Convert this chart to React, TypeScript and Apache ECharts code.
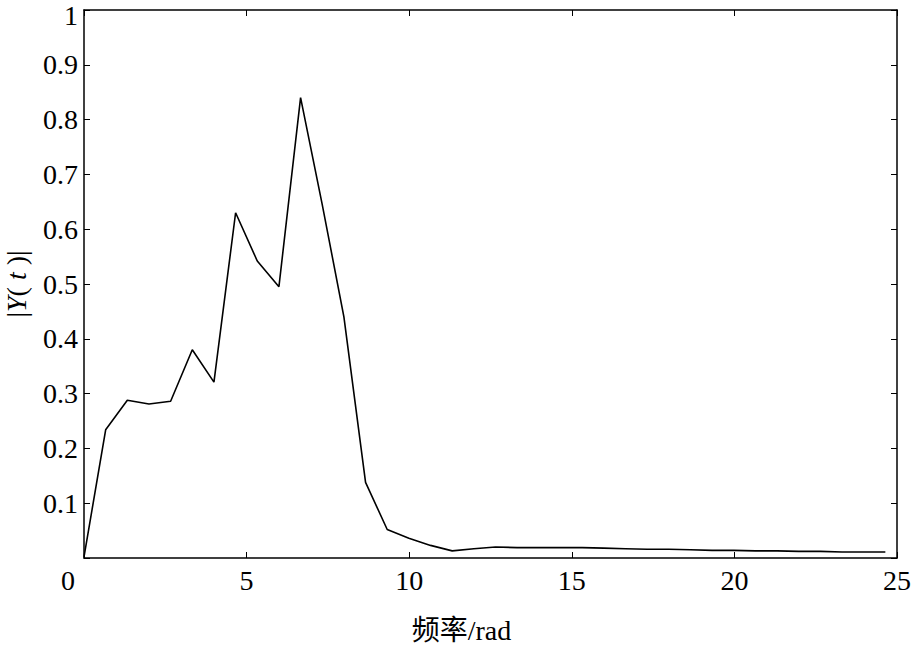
import React, { useEffect, useRef } from "react";
import * as echarts from "echarts";

const freq = [
  0, 0.666, 1.332, 1.998, 2.664, 3.33, 3.996, 4.662, 5.328, 5.994,
  6.66, 7.326, 7.992, 8.658, 9.324, 9.99, 10.656, 11.322, 11.988, 12.654,
  13.32, 13.986, 14.652, 15.318, 15.984, 16.65, 17.316, 17.982, 18.648, 19.314,
  19.98, 20.646, 21.312, 21.978, 22.644, 23.31, 23.976, 24.642,
];
const amplitude = [
  0.002, 0.234, 0.288, 0.281, 0.286, 0.38, 0.321, 0.63, 0.542, 0.495,
  0.84, 0.645, 0.44, 0.138, 0.052, 0.036, 0.023, 0.013, 0.017, 0.02,
  0.019, 0.019, 0.019, 0.019, 0.018, 0.017, 0.016, 0.016, 0.015, 0.014,
  0.014, 0.013, 0.013, 0.012, 0.012, 0.011, 0.011, 0.011,
];
const xTitle = "频率/rad";
const FONT = "'Liberation Serif', 'Noto Sans CJK SC', serif";

export default function App() {
  const ref = useRef<HTMLDivElement>(null);
  useEffect(() => {
    document.body.style.margin = "0";
    const chart = echarts.init(ref.current!, null, { renderer: "svg" });
    const axisLine = { show: true, onZero: false, lineStyle: { color: "#000", width: 1.5 } };
    const tick = { show: true, inside: true, length: 6, lineStyle: { color: "#000", width: 1 } };
    chart.setOption({
      animation: false,
      backgroundColor: "#fff",
      grid: { left: 84, right: 14, top: 10, bottom: 89, containLabel: false, outerBoundsMode: "none" },
      xAxis: [
        {
          type: "value",
          min: 0,
          max: 25,
          interval: 5,
          position: "bottom",
          axisLine,
          axisTick: tick,
          splitLine: { show: false },
          axisLabel: {
            color: "#000",
            fontFamily: FONT,
            fontSize: 28,
            margin: 8,
            formatter: (v: number) => (v === 0 ? "{z|0}" : String(v)),
            rich: { z: { color: "#000", fontFamily: FONT, fontSize: 28, padding: [0, 32, 0, 0] } },
          },
          name: xTitle,
          nameLocation: "middle",
          nameGap: 58,
          nameTextStyle: { color: "#000", fontFamily: FONT, fontSize: 28, padding: [0, 58, 0, 0] },
        },
        {
          type: "value",
          min: 0,
          max: 25,
          interval: 5,
          position: "top",
          axisLine,
          axisTick: tick,
          splitLine: { show: false },
          axisLabel: { show: false },
        },
      ],
      yAxis: [
        {
          type: "value",
          min: 0,
          max: 1,
          interval: 0.1,
          position: "left",
          axisLine,
          axisTick: tick,
          splitLine: { show: false },
          axisLabel: {
            color: "#000",
            fontFamily: FONT,
            fontSize: 28,
            margin: 6,
            formatter: (v: number) =>
              v === 0 ? "" : v === 1 ? "{one|1}" : String(Number(v.toFixed(1))),
            rich: { one: { color: "#000", fontFamily: FONT, fontSize: 28, padding: [10, 0, 0, 0] } },
          },
          name: "|{i|Y}( {i|t} )|",
          nameLocation: "middle",
          nameRotate: 90,
          nameGap: 54,
          nameTextStyle: {
            color: "#000",
            fontFamily: FONT,
            fontSize: 28,
            rich: { i: { fontStyle: "italic", fontFamily: FONT, fontSize: 28, color: "#000" } },
          },
        },
        {
          type: "value",
          min: 0,
          max: 1,
          interval: 0.1,
          position: "right",
          axisLine,
          axisTick: tick,
          splitLine: { show: false },
          axisLabel: { show: false },
        },
      ],
      series: [
        {
          type: "line",
          xAxisIndex: 0,
          yAxisIndex: 0,
          data: freq.map((f, i) => [f, amplitude[i]]),
          showSymbol: false,
          lineStyle: { color: "#000", width: 1.6 },
        },
      ],
    });
    return () => chart.dispose();
  }, []);
  return <div ref={ref} style={{ width: 911, height: 647 }} />;
}
